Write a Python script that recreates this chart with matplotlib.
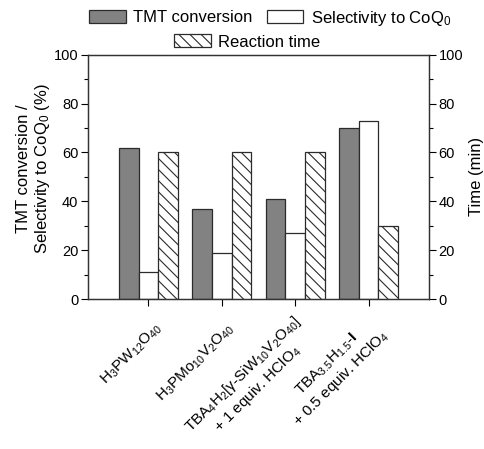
import numpy as np
import matplotlib
matplotlib.use("Agg")
import matplotlib.pyplot as plt
import matplotlib.transforms as mtransforms
from matplotlib.patches import Patch

plt.rcParams['font.family'] = ['Liberation Sans', 'DejaVu Sans']
plt.rcParams['mathtext.fontset'] = 'custom'
plt.rcParams['mathtext.rm'] = 'Liberation Sans'
plt.rcParams['mathtext.it'] = 'Liberation Sans:italic'
plt.rcParams['mathtext.bf'] = 'Liberation Sans:bold'
plt.rcParams['hatch.linewidth'] = 0.8
plt.rcParams['hatch.color'] = '#555555'

# data
catalysts = [
    r'H$_3$PW$_{12}$O$_{40}$',
    r'H$_3$PMo$_{10}$V$_2$O$_{40}$',
    'TBA$_4$H$_2$[γ-SiW$_{10}$V$_2$O$_{40}$]\n+ 1 equiv. HClO$_4$',
    'TBA$_{3.5}$H$_{1.5}$-$\\mathbf{I}$\n+ 0.5 equiv. HClO$_4$',
]
conversion = [62, 37, 41, 70]
selectivity = [11, 19, 27, 73]
reaction_time = [60, 60, 60, 30]

x = np.arange(1, len(catalysts) + 1)
w = 0.267
edge = '#2b2b2b'

fig = plt.figure(figsize=(4.84, 4.49), dpi=100)
ax = fig.add_axes([0.182, 0.334, 0.704, 0.544])
ax2 = ax.twinx()

ax.bar(x - w, conversion, w, color='#828282', edgecolor=edge, linewidth=0.9)
ax.bar(x, selectivity, w, color='white', edgecolor=edge, linewidth=0.9)
ax2.bar(x + w, reaction_time, w, color='white', edgecolor=edge, linewidth=0.9,
        hatch='\\\\\\')

for a in (ax, ax2):
    a.set_ylim(0, 100)
    a.set_yticks(np.arange(0, 101, 20))
    a.set_yticks(np.arange(0, 101, 10), minor=True)
    a.tick_params(axis='y', which='major', length=5, width=0.8, labelsize=10.5, pad=2)
    a.tick_params(axis='y', which='minor', length=3, width=0.8)
    for s in a.spines.values():
        s.set_linewidth(0.9)
        s.set_color('#333333')

ax.set_xlim(0.18, 4.82)
ax.set_xticks(x)
ax.set_xticklabels(catalysts, rotation=45, ha='right', va='center',
                   rotation_mode='anchor', fontsize=11, multialignment='center')
ax.tick_params(axis='x', length=5, width=0.8, pad=8)
offset = mtransforms.ScaledTranslation(11 / 100, -9 / 100, fig.dpi_scale_trans)
for lbl in ax.get_xticklabels():
    lbl.set_transform(lbl.get_transform() + offset)

ax.set_ylabel('TMT conversion /\nSelectivity to CoQ$_0$ (%)', fontsize=12, labelpad=1)
ax.yaxis.label.set_y(0.533)
ax2.set_ylabel('Time (min)', fontsize=12, labelpad=4)

h1 = Patch(facecolor='#828282', edgecolor=edge, linewidth=0.9)
h2 = Patch(facecolor='white', edgecolor=edge, linewidth=0.9)
h3 = Patch(facecolor='white', edgecolor=edge, linewidth=0.9, hatch='\\\\\\')
leg_kw = dict(frameon=False, fontsize=12, handlelength=2.2, handleheight=0.8,
              handletextpad=0.45, columnspacing=0.85, borderpad=0, borderaxespad=0)
fig.legend([h1, h2], ['TMT conversion', 'Selectivity to CoQ$_0$'], ncol=2,
           loc='center', bbox_to_anchor=(270 / 484, 1 - 18 / 449), **leg_kw)
fig.legend([h3], ['Reaction time'], loc='center',
           bbox_to_anchor=(247 / 484, 1 - 42 / 449), **leg_kw)

fig.savefig('out.png', dpi=100)
